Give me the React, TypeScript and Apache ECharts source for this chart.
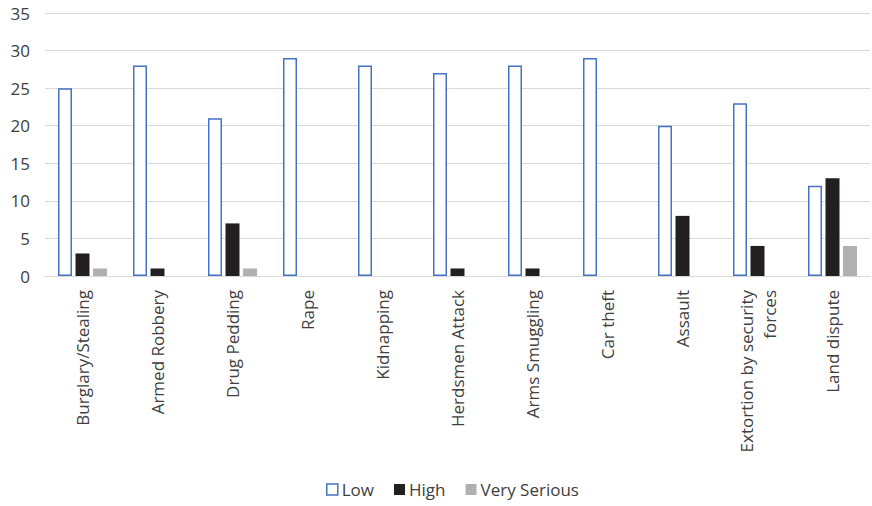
import React, { useEffect, useRef } from "react";
import * as echarts from "echarts";

const categories = [
  "Burglary/Stealing",
  "Armed Robbery",
  "Drug Pedding",
  "Rape",
  "Kidnapping",
  "Herdsmen Attack",
  "Arms Smuggling",
  "Car theft",
  "Assault",
  "Extortion by security\nforces",
  "Land dispute",
];

const lowValues = [25, 28, 21, 29, 28, 27, 28, 29, 20, 23, 12];
const highValues = [3, 1, 7, 0, 0, 1, 1, 0, 8, 4, 13];
const verySeriousValues = [1, 0, 1, 0, 0, 0, 0, 0, 0, 0, 4];

const FONT = "'Open Sans', 'Noto Sans', sans-serif";
const TEXT = "#404040";
const GRID = "#D9D9D9";

export default function App() {
  const ref = useRef<HTMLDivElement>(null);

  useEffect(() => {
    if (!ref.current) return;
    const chart = echarts.init(ref.current, undefined, { renderer: "svg" });
    chart.setOption({
      animation: false,
      backgroundColor: "#ffffff",
      textStyle: { fontFamily: FONT },
      grid: { left: 45, right: 2, top: 13, bottom: 230, containLabel: false },
      legend: {
        bottom: 3,
        left: 321,
        itemWidth: 11,
        itemHeight: 11,
        itemGap: 20,
        textStyle: { fontFamily: FONT, fontSize: 17, color: TEXT, padding: [0, 0, 0, -1] },
        data: [
          { name: "Low", icon: "rect", itemStyle: { color: "#ffffff", borderColor: "#4472C4", borderWidth: 1.5 } },
          { name: "High", icon: "rect" },
          { name: "Very Serious", icon: "rect" },
        ],
      },
      xAxis: {
        type: "category",
        data: categories,
        axisLine: { lineStyle: { color: GRID, width: 1 } },
        axisTick: { show: false },
        axisLabel: {
          rotate: 90,
          interval: 0,
          margin: 14,
          fontFamily: FONT,
          fontSize: 17,
          color: TEXT,
          lineHeight: 23,
          align: "right",
        },
      },
      yAxis: {
        type: "value",
        min: 0,
        max: 35,
        interval: 5,
        axisLine: { show: false },
        axisTick: { show: false },
        axisLabel: { fontFamily: FONT, fontSize: 17, color: TEXT, margin: 15 },
        splitLine: { lineStyle: { color: GRID, width: 1 } },
      },
      series: [
        {
          name: "Low",
          type: "bar",
          data: lowValues,
          barWidth: 14,
          barGap: "25%",
          itemStyle: { color: "#ffffff", borderColor: "#4472C4", borderWidth: 1.5 },
        },
        {
          name: "High",
          type: "bar",
          data: highValues,
          barWidth: 14,
          itemStyle: { color: "#231F20" },
        },
        {
          name: "Very Serious",
          type: "bar",
          data: verySeriousValues,
          barWidth: 14,
          itemStyle: { color: "#B0B0B2" },
        },
      ],
    });
    return () => chart.dispose();
  }, []);

  return (
    <div
      ref={ref}
      style={{ position: "absolute", left: 0, top: 0, width: 872, height: 506 }}
    />
  );
}
